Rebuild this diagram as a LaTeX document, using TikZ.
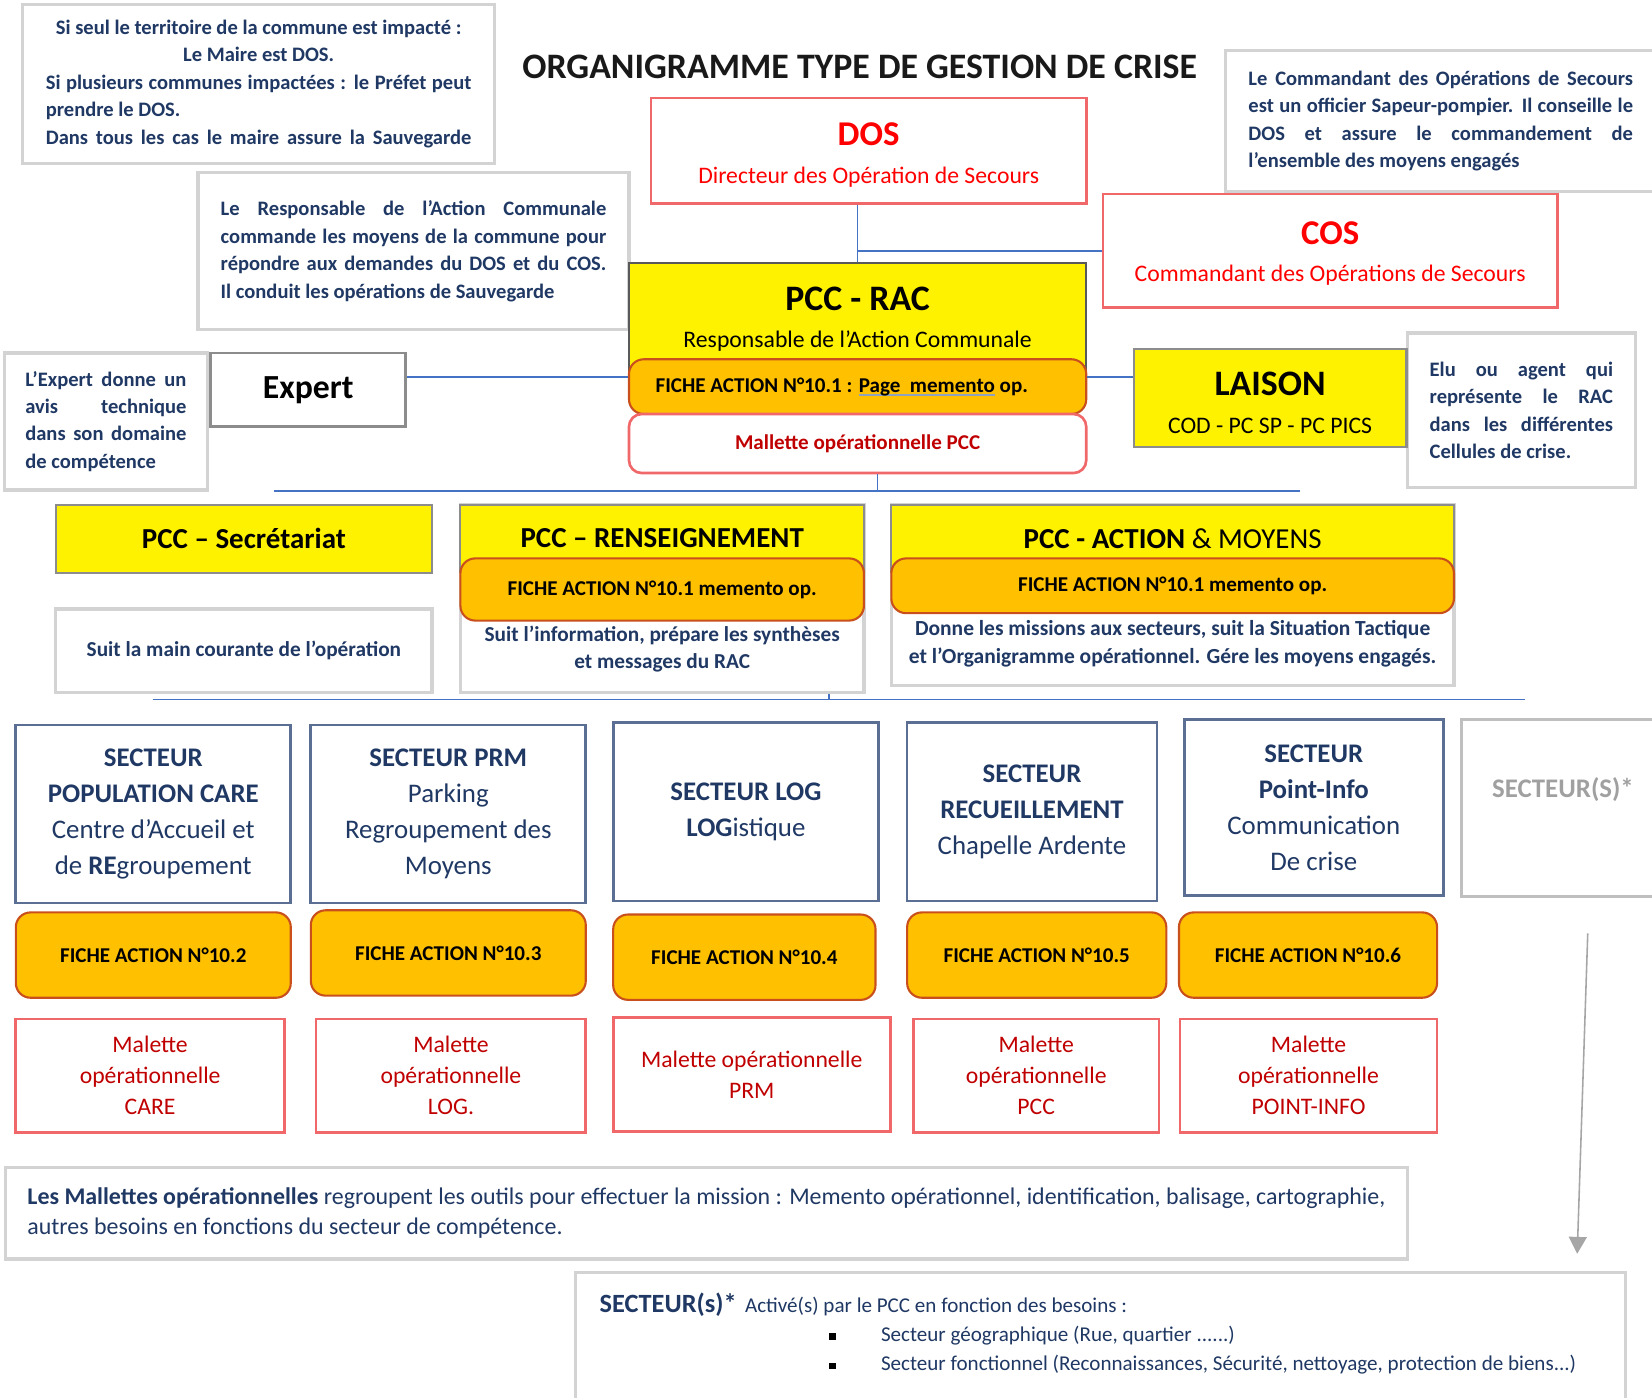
\documentclass[tikz,border=0pt]{standalone}
\usepackage{fontspec}
\setmainfont{Carlito}
\usetikzlibrary{arrows.meta, positioning}
\definecolor{txtblue}{HTML}{1F3864}
\definecolor{linkblue}{HTML}{4472C4}
\definecolor{notegray}{HTML}{D3D3D3}
\definecolor{boxred}{HTML}{F0686A}
\definecolor{darkred}{HTML}{C00000}
\definecolor{ficheorange}{HTML}{FFC000}
\definecolor{ficheedge}{HTML}{C9501C}
\definecolor{secblue}{HTML}{5B6F95}
\definecolor{gramblue}{HTML}{8EA1BE}
\definecolor{racgray}{HTML}{595959}
\definecolor{boxgray}{HTML}{8C8C8C}
\definecolor{autregray}{HTML}{BFBFBF}
\definecolor{autretext}{HTML}{A0A0A0}
\definecolor{arrowgray}{HTML}{A6A6A6}
\newcommand{\fsz}[2]{\fontsize{#1}{#2}\selectfont}
\newcommand{\gramline}[1]{\setbox0=\hbox{#1}\rlap{\color{gramblue}\rule[-3.5pt]{\wd0}{1.5pt}}\box0\relax}
\setlength{\parindent}{0pt}
\tolerance=10000
\hyphenpenalty=10000

\tikzset{
  note/.style={draw=notegray, line width=3pt, fill=white, inner sep=0pt, text=txtblue, font=\bfseries\fsz{19.5}{26}},
  redbox/.style={draw=boxred, line width=2.5pt, fill=white, inner sep=0pt, align=center},
  yellowbox/.style={draw=boxgray, line width=2pt, fill=yellow, inner sep=0pt, align=center},
  fiche/.style={draw=ficheedge, line width=2pt, fill=ficheorange, rounded corners=14pt, inner sep=0pt, font=\bfseries\fsz{20}{24}},
  secteur/.style={draw=secblue, line width=2.5pt, inner sep=0pt, align=center, text=txtblue, font=\fsz{25.5}{34.3}},
  malette/.style={draw=boxred, line width=2.5pt, inner sep=0pt, align=center, text=darkred, font=\fsz{22.5}{29.5}},
  link/.style={draw=linkblue, line width=1.5pt},
}

\begin{document}
\begin{tikzpicture}[x=1pt, y=-1pt]
  \useasboundingbox (0,0) rectangle (1568,1326);

  \node[font=\bfseries\fsz{34}{40}, text=black!90] (titre) at (816,63) {ORGANIGRAMME TYPE DE GESTION DE CRISE};

  \node[note, minimum width=448, minimum height=151, text width=404, align=justify] (noteMaire) at (245.5,79.5)
    {\spaceskip=4.4pt plus 3pt minus 1.7pt
     {\centering Si seul le territoire de la commune est impacté :\\ Le Maire est DOS.\par}
     Si plusieurs communes impactées : le Préfet peut\linebreak prendre le DOS.\par
     {\parfillskip=0pt Dans tous les cas le maire assure la Sauvegarde\par}};
  \node[note, minimum width=409, minimum height=149, text width=366, align=justify] (noteRac) at (392.5,238.5)
    {Le Responsable de l’Action Communale\linebreak commande les moyens de la commune pour\linebreak répondre aux demandes du DOS et du COS.\linebreak Il conduit les opérations de Sauvegarde};
  \node[note, minimum width=409, minimum height=134, text width=365, align=justify] (noteCos) at (1367.5,115)
    {Le Commandant des Opérations de Secours\linebreak est un officier Sapeur-pompier. Il conseille le\linebreak DOS et assure le commandement de\linebreak l’ensemble des moyens engagés};
  \node[note, minimum width=193, minimum height=130, text width=153, align=justify] (noteExpert) at (100.5,400)
    {L’Expert donne un\linebreak avis technique\linebreak dans son domaine\linebreak de compétence};
  \node[note, minimum width=216, minimum height=147, text width=174, align=justify] (noteLiaison) at (1444,389.5)
    {Elu ou agent qui\linebreak représente le RAC\linebreak dans les différentes\linebreak Cellules de crise.};

  \node[redbox, minimum width=413, minimum height=100] (dos) at (824.5,143) {};
  \node[align=center, text=red, font=\fsz{22.5}{36}] (dosTxt) at (824.5,147)
    {{\fsz{33}{36}\bfseries DOS}\\Directeur des Opération de Secours};
  \node[redbox, minimum width=431, minimum height=108] (cos) at (1262.5,238) {};
  \node[align=center, text=red, font=\fsz{22.5}{35}] (cosTxt) at (1262.5,241)
    {{\fsz{33}{35}\bfseries COS}\\Commandant des Opérations de Secours};

  \node[yellowbox, draw=racgray, minimum width=434, minimum height=102] (rac) at (814,301) {};
  \node[align=center, font=\fsz{22.5}{35}] (racTxt) at (814,303)
    {{\fsz{34}{35}\bfseries PCC - RAC}\\Responsable de l’Action Communale};
  \node[fiche, minimum width=434, minimum height=52] (racFiche) at (814,367)
    {FICHE ACTION N°10.1 : \gramline{Page\ \ memento} op.\hspace*{30pt}};
  \node[redbox, rounded corners=12pt, minimum width=434, minimum height=56, text=darkred, font=\bfseries\fsz{20}{24}] (racMal) at (814,421)
    {Mallette opérationnelle PCC};

  \node[draw=boxgray, line width=2.5pt, fill=white, minimum width=185, minimum height=70, font=\bfseries\fsz{32}{36}] (expert) at (292.5,370) {Expert};
  \node[yellowbox, minimum width=259, minimum height=93] (liaison) at (1205.5,377.5) {};
  \node[align=center, font=\fsz{22.5}{36}] (liaisonTxt) at (1205.5,382)
    {{\fsz{34}{36}\bfseries LAISON}\\COD - PC SP - PC PICS};

  \draw[link] (rac.north) -- (rac.north |- dos.south);
  \draw[link] (rac.north |- cos.west) -- (cos.west);
  \draw[link] ([yshift=12pt]expert.east) -- ([yshift=12pt]expert.east -| racFiche.west);
  \draw[link] ([yshift=19.5pt]liaison.west) -- ([yshift=19.5pt]liaison.west -| racFiche.east);

  \coordinate (busAw) at (260,466);
  \coordinate (busAe) at (1234,466);
  \draw[link] (busAw) -- (busAe);
  \draw[link] ([xshift=19pt]racMal.south) -- ([xshift=19pt]racMal.south |- busAw);

  \node[yellowbox, minimum width=357, minimum height=65, font=\bfseries\fsz{27.5}{30}] (secr) at (231.5,511.5) {PCC – Secrétariat};
  \node[note, minimum width=357, minimum height=79, font=\bfseries\fsz{20.2}{26}] (secrTxt) at (231.5,617.5) {Suit la main courante de l’opération};

  \node[note, minimum width=383, minimum height=178] (rens) at (628.5,568) {};
  \node[yellowbox, minimum width=383, minimum height=64, font=\bfseries\fsz{27.5}{30}] (rensHead) at (628.5,511) {PCC – RENSEIGNEMENT};
  \node[fiche, minimum width=383, minimum height=59] (rensFiche) at (628.5,559.5) {FICHE ACTION N°10.1 memento op.};
  \node[align=center, text=txtblue, font=\bfseries\fsz{20.2}{26}] (rensTxt) at (628.5,616)
    {Suit l’information, prépare les synthèses\\et messages du RAC};

  \node[note, minimum width=534, minimum height=172] (act) at (1113,565) {};
  \node[yellowbox, minimum width=534, minimum height=64, font=\fsz{27.5}{30}] (actHead) at (1113,511) {\textbf{PCC - ACTION} \& MOYENS};
  \node[fiche, minimum width=534, minimum height=52] (actFiche) at (1113,556) {FICHE ACTION N°10.1 memento op.};
  \node[align=center, text=txtblue, font=\bfseries\fsz{20.4}{26}] (actTxt) at (1113,611)
    {Donne les missions aux secteurs, suit la Situation Tactique\\et l’Organigramme opérationnel. Gére les moyens engagés.};

  \coordinate (busBw) at (145,664);
  \coordinate (busBe) at (1447,664);
  \draw[link] (busBw) -- (busBe);
  \draw[link] ([xshift=158.5pt]rens.south) -- ([xshift=158.5pt]rens.south |- busBw);

  \node[secteur, minimum width=261, minimum height=169] (secCare) at (145.5,772.5)
    {\textbf{SECTEUR}\\\textbf{POPULATION CARE}\\Centre d’Accueil et\\de \textbf{RE}groupement};
  \node[secteur, minimum width=261, minimum height=169] (secPrm) at (425.5,772.5)
    {\textbf{SECTEUR PRM}\\Parking\\Regroupement des\\Moyens};
  \node[secteur, minimum width=252, minimum height=169] (secLog) at (708,770.5)
    {\textbf{SECTEUR LOG}\\\textbf{LOG}istique};
  \node[secteur, minimum width=237, minimum height=169] (secRec) at (979.5,770.5)
    {\textbf{SECTEUR}\\\textbf{RECUEILLEMENT}\\Chapelle Ardente};
  \node[secteur, minimum width=246, minimum height=167] (secInfo) at (1247,766.5)
    {\textbf{SECTEUR}\\\textbf{Point-Info}\\Communication\\De crise};
  \node[draw=autregray, line width=2.5pt, minimum width=192, minimum height=168] (secAutre) at (1483,767) {};
  \node[text=autretext, font=\bfseries\fsz{25.5}{30}] (secAutreTxt) at (1483.5,749) {SECTEUR(S)*};

  \node[fiche, minimum width=261, minimum height=81] (ficheCare) at (145.5,906.5) {FICHE ACTION N°10.2};
  \node[fiche, minimum width=261, minimum height=81] (fichePrm) at (425.5,904.5) {FICHE ACTION N°10.3};
  \node[fiche, minimum width=249, minimum height=81] (ficheLog) at (706.5,908.5) {FICHE ACTION N°10.4};
  \node[fiche, minimum width=246, minimum height=81] (ficheRec) at (984,906.5) {FICHE ACTION N°10.5};
  \node[fiche, minimum width=245, minimum height=81] (ficheInfo) at (1241.5,906.5) {FICHE ACTION N°10.6};

  \node[malette, minimum width=255, minimum height=108] (malCare) at (142.5,1021) {Malette\\opérationnelle\\CARE};
  \node[malette, minimum width=256, minimum height=108] (malPrm) at (428,1021) {Malette\\opérationnelle\\LOG.};
  \node[malette, minimum width=263, minimum height=108] (malLog) at (713.5,1020) {Malette opérationnelle\\PRM};
  \node[malette, minimum width=233, minimum height=108] (malRec) at (983.5,1021) {Malette\\opérationnelle\\PCC};
  \node[malette, minimum width=244, minimum height=108] (malInfo) at (1242,1021) {Malette\\opérationnelle\\POINT-INFO};

  \node[note, minimum width=1331, minimum height=87, align=left, font=\fsz{22.7}{29}] (noteMal) at (670.5,1151.5)
    {\textbf{Les Mallettes opérationnelles} regroupent les outils pour effectuer la mission : Memento opérationnel, identification, balisage, cartographie,\\autres besoins en fonctions du secteur de compétence.};

  \coordinate (arrTop) at (1507,886);
  \coordinate (arrBot) at (1497,1190);
  \draw[arrowgray, line width=1.5pt, -{Triangle[width=17pt,length=16pt]}] (arrTop) -- (arrBot);

  \node[note, minimum width=997, minimum height=120] (noteSect) at (1044.5,1268) {};
  \node[anchor=base west, inner sep=0pt, text=txtblue] (sectHead) at (569,1246)
    {{\bfseries\fsz{25}{30}SECTEUR(s)*}\hspace{8pt}{\fsz{20}{24}Activé(s) par le PCC en fonction des besoins :}};
  \node[anchor=base west, inner sep=0pt, text=txtblue, font=\fsz{20}{24}] (sectGeo) at (787,1273)
    {{\color{black}\rule[1.5pt]{6pt}{6pt}}\hspace{43pt}Secteur géographique (Rue, quartier ......)};
  \node[anchor=base west, inner sep=0pt, text=txtblue, font=\fsz{20}{24}] (sectFct) at (787,1301)
    {{\color{black}\rule[1.5pt]{6pt}{6pt}}\hspace{43pt}Secteur fonctionnel (Reconnaissances, Sécurité, nettoyage, protection de biens...)};
\end{tikzpicture}
\end{document}
